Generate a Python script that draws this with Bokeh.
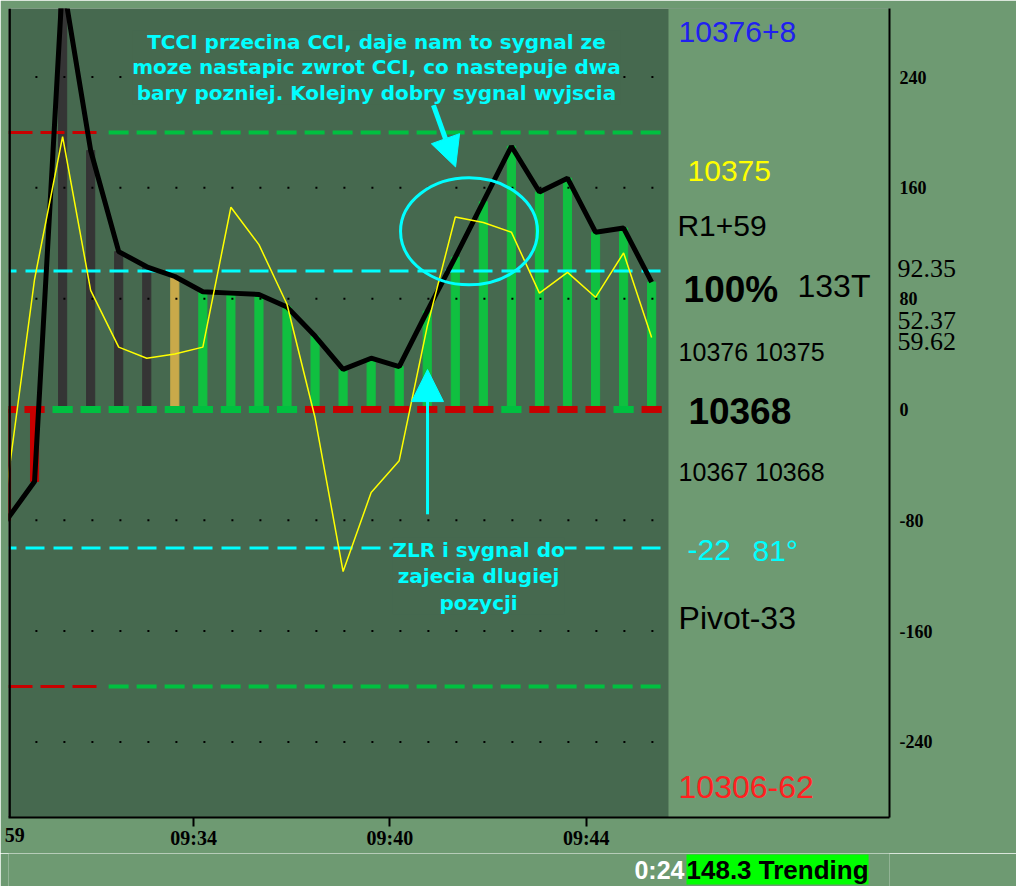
from bokeh.plotting import figure
from bokeh.layouts import column
from bokeh.models import (Range1d, Label, Arrow, NormalHead, Span, BoxAnnotation,
                          FixedTicker, ColumnDataSource, LinearAxis, AllLabels)
from bokeh.embed import file_html
from bokeh.resources import INLINE

# ---------------- data ----------------
bar_idx = list(range(24))
cci = [-80, -52, 310, 187, 114, 103, 96, 85, 84, 83, 74, 53, 29, 37, 31, 71,
       110, 150, 190, 157, 167, 128, 131, 92]
tcci = [-58, 94, 197, 86, 45, 37, 40, 45, 146, 119, 76, -6, -117, -60, -37, 60,
        139, 135, 128, 84, 99, 81, 113, 52]
bar_state = ["down"] * 2 + ["neutral"] * 4 + ["sixth"] + ["up"] * 17
zero_state = (["down"] * 2 + ["up"] * 9 + ["down"] * 7 + ["up"] + ["down"] * 3
              + ["up"] + ["down"])
cyan_levels = [100, -100]
band_levels = [200, -200]
dot_levels = [240, 160, 80, -80, -160, -240]
right_ticks = [-240, -160, -80, 0, 80, 160, 240]
readout_texts = ["92.35", "52.37", "59.62"]
time_ticks = [6.67, 13.67, 20.67]
time_labels = ["09:34", "09:40", "09:44"]
first_time_label = "59"
status_timer = "0:24"
status_text = "148.3 Trending"

# ---------------- styling ----------------
OUTER = "#6e9a72"
INNER = "#46694f"
CYAN = "#00ffff"
state_color = {"down": "#c80000", "neutral": "#353535", "sixth": "#c9a94a", "up": "#10c040"}
dash_color = {"down": "#c80000", "up": "#00c040"}

x_start, x_end = 0.071, 31.48
panel_x = 23.6
y_start, y_end = -294.6, 289.5


def px_x(px):
    return round((px - 6) / 28.05, 2)


def px_y(py):
    return round((409 - py) / 1.385, 2)


p = figure(frame_width=881, frame_height=809, min_border_left=8, min_border_top=8,
           min_border_right=127, min_border_bottom=36,
           x_range=Range1d(x_start, x_end), y_range=Range1d(y_start, y_end),
           y_axis_location="right", output_backend="svg", toolbar_location=None)
p.background_fill_color = INNER
p.border_fill_color = OUTER
p.outline_line_color = None
p.grid.visible = False

p.add_layout(BoxAnnotation(left=panel_x, fill_color=OUTER, fill_alpha=1,
                           line_color=None, level="underlay"))

# axes
ya = p.yaxis[0]
ya.ticker = FixedTicker(ticks=right_ticks)
ya.major_label_overrides = {t: str(t) for t in right_ticks}
ya.major_label_policy = AllLabels()
ya.axis_line_color = "black"
ya.axis_line_width = 2
ya.major_tick_out = 0
ya.major_tick_in = 0
ya.minor_tick_line_color = None
ya.major_label_standoff = 10
ya.major_label_text_font = "Liberation Serif"
ya.major_label_text_font_style = "bold"
ya.major_label_text_font_size = "18px"
ya.major_label_text_color = "black"

readout_pos = [px_y(268), px_y(320), px_y(341)]
ra = LinearAxis(ticker=FixedTicker(ticks=readout_pos),
                major_label_overrides={t: s for t, s in zip(readout_pos, readout_texts)},
                major_label_policy=AllLabels(), axis_line_color=None,
                major_tick_line_color=None, minor_tick_line_color=None,
                major_tick_out=0, major_tick_in=0, major_label_standoff=-38,
                major_label_text_font="Liberation Serif", major_label_text_font_size="26px",
                major_label_text_color="black")
p.add_layout(ra, "right")

xa = p.xaxis[0]
xa.ticker = FixedTicker(ticks=time_ticks)
xa.major_label_overrides = {t: l for t, l in zip(time_ticks, time_labels)}
xa.axis_line_color = "black"
xa.axis_line_width = 2
xa.major_tick_out = 9
xa.major_tick_in = 0
xa.major_tick_line_width = 2
xa.major_tick_line_color = "black"
xa.minor_tick_line_color = None
xa.major_label_standoff = 0
xa.major_label_text_font = "Liberation Serif"
xa.major_label_text_font_style = "bold"
xa.major_label_text_font_size = "20px"
xa.major_label_text_color = "black"

first_pos = px_x(14)
xa2 = LinearAxis(ticker=FixedTicker(ticks=[first_pos]),
                 major_label_overrides={first_pos: first_time_label},
                 axis_line_color=None, major_tick_line_color=None, minor_tick_line_color=None,
                 major_tick_out=0, major_tick_in=0, major_label_standoff=-24,
                 major_label_text_font="Liberation Serif", major_label_text_font_style="bold",
                 major_label_text_font_size="20px", major_label_text_color="black")
p.add_layout(xa2, "below")

p.add_layout(Span(location=x_start + 0.03, dimension="height", line_color="black", line_width=3))

# bars
src = ColumnDataSource(dict(x=bar_idx, top=cci, color=[state_color[s] for s in bar_state]))
p.vbar(x="x", top="top", bottom=0, width=0.29, color="color", source=src)

# dotted grid rows
for lv in dot_levels:
    p.line([1.03, panel_x - 0.2], [lv, lv], line_color="black", line_width=2, line_dash="2 26")

# +-200 bands (red then green)
for lv in band_levels:
    p.line([x_start, 3.35], [lv, lv], line_color=dash_color["down"], line_width=3, line_dash="24 8")
    p.line([3.64, 23.35], [lv, lv], line_color=dash_color["up"], line_width=4, line_dash="20 8")

# zero line dashes
p.rect(x=bar_idx, y=[0] * len(bar_idx), width=0.72, height=7, height_units="screen",
       fill_color=[dash_color[s] for s in zero_state], line_color=None)

# cyan +-100
for lv in cyan_levels:
    p.line([x_start, 23.35], [lv, lv], line_color=CYAN, line_width=3, line_dash="19 9",
           line_dash_offset=11)

# CCI and TCCI lines
p.line(bar_idx, cci, line_color="black", line_width=5)
p.line(bar_idx, tcci, line_color="#ffff00", line_width=1.5)

# annotation shapes
ellipse_x, ellipse_y = [16.49], [128.6]
p.ellipse(x=ellipse_x, y=ellipse_y, width=137, height=107, width_units="screen",
          height_units="screen", fill_color=None, line_color=CYAN, line_width=3)

arrow1 = (15.22, 219.8, 16.01, 175.1)
arrow2 = (15.01, -75.7, 15.01, 28.8)
p.add_layout(Arrow(end=NormalHead(size=30, fill_color=CYAN, line_color=CYAN),
                   x_start=arrow1[0], y_start=arrow1[1], x_end=arrow1[2], y_end=arrow1[3],
                   line_color=CYAN, line_width=5))
p.add_layout(Arrow(end=NormalHead(size=32, fill_color=CYAN, line_color=CYAN),
                   x_start=arrow2[0], y_start=arrow2[1], x_end=arrow2[2], y_end=arrow2[3],
                   line_color=CYAN, line_width=3))

# annotation texts
p.add_layout(Label(x=13.19, y=247, text="TCCI przecina CCI, daje nam to sygnal ze\n"
                   "moze nastapic zwrot CCI, co nastepuje dwa\nbary pozniej. Kolejny dobry sygnal wyjscia",
                   text_align="center", text_baseline="middle", text_font="DejaVu Sans",
                   text_font_style="bold", text_font_size="20px", text_color=CYAN,
                   text_line_height=1.05, background_fill_color=INNER))
p.add_layout(Label(x=16.83, y=-120.4, text="ZLR i sygnal do\nzajecia dlugiej\npozycji",
                   text_align="center", text_baseline="middle", text_font="DejaVu Sans",
                   text_font_style="bold", text_font_size="20px", text_color=CYAN,
                   text_line_height=1.1, background_fill_color=INNER))

panel_texts = [
    ("10376+8", 678, 32, "#2020f0", "normal", "30px"),
    ("10375", 687, 171, "#ffff00", "normal", "30px"),
    ("R1+59", 677, 225, "black", "normal", "30px"),
    ("100%", 683, 289, "black", "bold", "37px"),
    ("133T", 797, 286, "black", "normal", "32px"),
    ("10376 10375", 678, 352, "black", "normal", "25px"),
    ("10368", 688, 411, "black", "bold", "37px"),
    ("10367 10368", 678, 472, "black", "normal", "25px"),
    ("-22", 687, 550, CYAN, "normal", "30px"),
    ("81°", 752, 550, CYAN, "normal", "30px"),
    ("Pivot-33", 678, 618, "black", "normal", "32px"),
    ("10306-62", 678, 787, "#ff2020", "normal", "32px"),
]
for t, x, y, c, st, fs in panel_texts:
    p.add_layout(Label(x=px_x(x), y=px_y(y), text=t, text_align="left", text_baseline="middle",
                       text_font="Liberation Sans", text_font_style=st, text_font_size=fs,
                       text_color=c))

# ---------------- status strip below ----------------
s = figure(frame_width=881, frame_height=33, min_border_left=8, min_border_right=127,
           min_border_top=0, min_border_bottom=0,
           x_range=Range1d(8, 889), y_range=Range1d(0, 33),
           x_axis_location=None, y_axis_location=None, output_backend="svg", toolbar_location=None)
s.background_fill_color = OUTER
s.border_fill_color = OUTER
s.outline_line_color = None
s.grid.visible = False
s.add_layout(Label(x=684, y=17, text=status_timer, text_align="right", text_baseline="middle",
                   text_font="Liberation Sans", text_font_style="bold", text_font_size="25px",
                   text_color="white"))
s.add_layout(Label(x=686, y=17, text=status_text, text_align="left", text_baseline="middle",
                   text_font="Liberation Sans", text_font_style="bold", text_font_size="26px",
                   text_color="black", background_fill_color="#00ff00"))

layout = column(p, s, spacing=0)
open("out.html", "w").write(file_html(layout, INLINE))
